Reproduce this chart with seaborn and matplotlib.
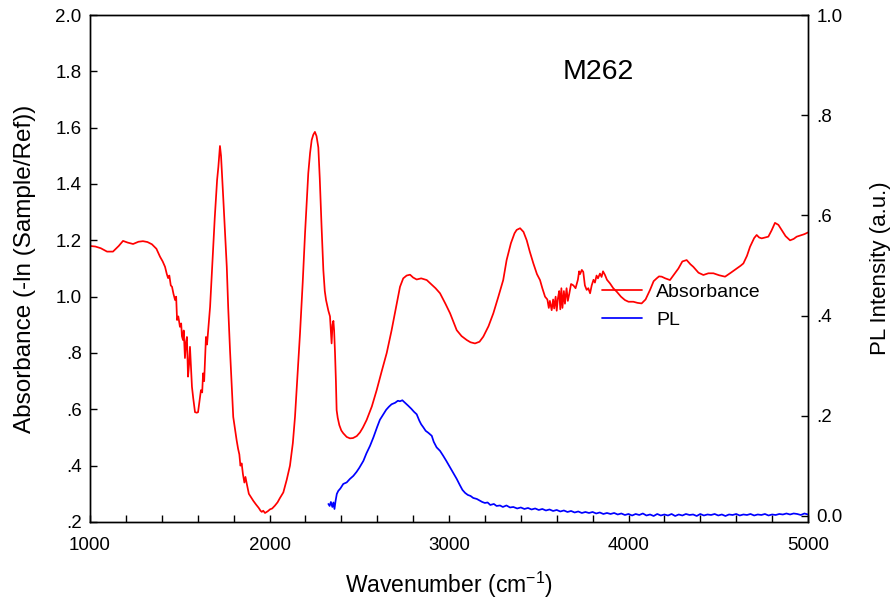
import matplotlib
matplotlib.use("Agg")
import matplotlib.pyplot as plt
from matplotlib.ticker import FixedLocator, FixedFormatter, MultipleLocator
import seaborn as sns

sns.set_style("ticks")
plt.rcParams["font.family"] = ["Liberation Sans", "DejaVu Sans"]
plt.rcParams.update({
    "text.color": "black",
    "axes.labelcolor": "black",
    "xtick.color": "black",
    "ytick.color": "black",
    "axes.edgecolor": "black",
    "mathtext.default": "regular",
})

# ---- Absorbance spectrum (left axis) ----
abs_wn = [
    1000, 1030, 1060, 1095, 1128, 1160, 1184, 1210, 1240, 1270, 1295, 1320, 1345, 1370,
    1390, 1405, 1418, 1428, 1435, 1442, 1450, 1457, 1465, 1474, 1480, 1485, 1492, 1501,
    1508, 1512, 1518, 1522, 1529, 1535, 1540, 1546, 1552, 1557, 1563, 1568, 1575, 1585,
    1595, 1602, 1610, 1618, 1625, 1630, 1636, 1646, 1652, 1657, 1664, 1669, 1677, 1685,
    1695, 1708, 1715, 1720, 1724, 1730, 1736, 1743, 1752, 1762, 1770, 1780, 1790, 1798,
    1808, 1817, 1825, 1832, 1838, 1845, 1852, 1860, 1866, 1873, 1885, 1895, 1910, 1925,
    1940, 1950, 1957, 1965, 1975, 1990, 2003, 2015, 2030, 2045, 2058, 2077, 2096, 2114,
    2130, 2142, 2155, 2170, 2185, 2198, 2207, 2216, 2226, 2235, 2244, 2253, 2262, 2272,
    2280, 2290, 2300, 2308, 2315, 2328, 2337, 2342, 2346, 2351, 2356, 2360, 2365, 2370,
    2374, 2380, 2389, 2400, 2411, 2430, 2448, 2465, 2486, 2504, 2520, 2541, 2570, 2597,
    2625, 2653, 2680, 2709, 2727, 2745, 2764, 2783, 2800, 2820, 2845, 2876, 2900, 2925,
    2950, 2980, 3006, 3025, 3043, 3070, 3099, 3120, 3145, 3170, 3191, 3220, 3247, 3275,
    3302, 3321, 3345, 3365, 3377, 3396, 3415, 3433, 3450, 3470, 3490, 3507, 3520, 3535,
    3548, 3556, 3562, 3572, 3580, 3586, 3594, 3600, 3607, 3614, 3620, 3626, 3632, 3640,
    3646, 3655, 3662, 3670, 3680, 3693, 3705, 3718, 3725, 3730, 3740, 3748, 3757, 3767,
    3776, 3786, 3795, 3805, 3813, 3822, 3830, 3841, 3850, 3858, 3869, 3880, 3897, 3915,
    3934, 3958, 3980, 4000, 4027, 4050, 4073, 4095, 4120, 4140, 4157, 4170, 4185, 4205,
    4231, 4255, 4278, 4300, 4324, 4345, 4361, 4390, 4417, 4445, 4473, 4505, 4538, 4570,
    4603, 4625, 4640, 4660, 4677, 4700, 4714, 4728, 4742, 4760, 4779, 4797, 4816, 4835,
    4853, 4875, 4900, 4920, 4937, 4960, 4980, 5000,
]
abs_val = [
    1.180, 1.178, 1.172, 1.160, 1.160, 1.180, 1.198, 1.192, 1.187, 1.195, 1.197, 1.194, 1.186, 1.170,
    1.142, 1.125, 1.106, 1.080, 1.066, 1.075, 1.040, 1.035, 1.010, 0.988, 1.000, 0.917, 0.930, 0.893,
    0.905, 0.860, 0.846, 0.880, 0.782, 0.840, 0.857, 0.716, 0.760, 0.822, 0.740, 0.680, 0.640, 0.590,
    0.588, 0.590, 0.630, 0.668, 0.660, 0.728, 0.700, 0.857, 0.830, 0.870, 0.930, 0.964, 1.060, 1.155,
    1.280, 1.414, 1.460, 1.500, 1.535, 1.500, 1.430, 1.343, 1.230, 1.106, 0.960, 0.810, 0.680, 0.573,
    0.530, 0.490, 0.460, 0.440, 0.400, 0.408, 0.370, 0.340, 0.360, 0.337, 0.300, 0.290, 0.275, 0.262,
    0.250, 0.240, 0.236, 0.240, 0.232, 0.238, 0.245, 0.248, 0.258, 0.270, 0.285, 0.305, 0.350, 0.400,
    0.480, 0.573, 0.710, 0.870, 1.050, 1.225, 1.330, 1.438, 1.510, 1.556, 1.575, 1.585, 1.570, 1.530,
    1.420, 1.250, 1.094, 1.020, 0.988, 0.950, 0.930, 0.880, 0.834, 0.900, 0.914, 0.880, 0.800, 0.700,
    0.597, 0.570, 0.544, 0.525, 0.515, 0.502, 0.497, 0.498, 0.505, 0.518, 0.535, 0.562, 0.610, 0.668,
    0.735, 0.800, 0.880, 0.976, 1.035, 1.065, 1.075, 1.078, 1.068, 1.061, 1.065, 1.059, 1.045, 1.030,
    1.012, 0.975, 0.941, 0.910, 0.881, 0.860, 0.846, 0.838, 0.834, 0.840, 0.858, 0.895, 0.941, 1.000,
    1.059, 1.130, 1.190, 1.225, 1.237, 1.243, 1.230, 1.200, 1.160, 1.118, 1.080, 1.059, 1.030, 1.000,
    0.990, 0.960, 0.985, 0.952, 0.990, 0.958, 1.000, 0.950, 0.995, 1.020, 0.955, 1.030, 0.960, 1.020,
    0.975, 1.030, 0.985, 1.010, 1.045, 1.040, 1.030, 1.060, 1.090, 1.080, 1.095, 1.088, 1.040, 1.024,
    1.030, 1.012, 1.040, 1.060, 1.050, 1.075, 1.065, 1.082, 1.070, 1.090, 1.077, 1.060, 1.047, 1.030,
    1.018, 1.000, 0.988, 0.982, 0.982, 0.978, 0.976, 0.990, 1.024, 1.055, 1.065, 1.072, 1.071, 1.065,
    1.059, 1.080, 1.100, 1.125, 1.130, 1.115, 1.106, 1.085, 1.077, 1.083, 1.083, 1.076, 1.071, 1.085,
    1.100, 1.110, 1.118, 1.145, 1.177, 1.208, 1.219, 1.210, 1.207, 1.210, 1.213, 1.235, 1.262, 1.255,
    1.237, 1.215, 1.200, 1.205, 1.213, 1.218, 1.222, 1.228,
]

# ---- Photoluminescence spectrum (right axis) ----
pl_wn = [
    2328, 2335, 2342, 2350, 2356, 2362, 2368, 2375, 2383, 2395, 2411, 2430, 2448, 2467,
    2485, 2500, 2523, 2540, 2560, 2579, 2600, 2615, 2634, 2650, 2665, 2680, 2700, 2715,
    2727, 2740, 2755, 2773, 2790, 2805, 2820, 2835, 2845, 2857, 2870, 2885, 2904, 2915,
    2931, 2950, 2968, 2985, 3006, 3025, 3043, 3060, 3075, 3090, 3105, 3120, 3135, 3155,
    3170, 3185, 3200, 3215, 3230, 3250, 3265, 3284, 3300, 3320, 3340, 3358, 3380, 3400,
    3420, 3440, 3460, 3480, 3500, 3520, 3540, 3560, 3580, 3600, 3620, 3640, 3660, 3680,
    3700, 3720, 3740, 3760, 3780, 3800, 3820, 3840, 3860, 3880, 3900, 3920, 3940, 3960,
    3980, 4000, 4020, 4040, 4060, 4080, 4100, 4120, 4140, 4160, 4180, 4200, 4220, 4240,
    4260, 4280, 4300, 4320, 4340, 4360, 4380, 4400, 4420, 4440, 4460, 4480, 4500, 4520,
    4540, 4560, 4580, 4600, 4620, 4640, 4660, 4680, 4700, 4720, 4740, 4760, 4780, 4800,
    4820, 4840, 4860, 4880, 4900, 4920, 4940, 4960, 4980, 5000,
]
pl_val = [
    0.024, 0.020, 0.028, 0.018, 0.027, 0.014, 0.030, 0.044, 0.050, 0.055, 0.064, 0.067, 0.074, 0.080,
    0.088, 0.096, 0.110, 0.125, 0.140, 0.157, 0.178, 0.192, 0.203, 0.212, 0.218, 0.223, 0.226, 0.230,
    0.229, 0.231, 0.226, 0.220, 0.214, 0.208, 0.203, 0.190, 0.183, 0.177, 0.170, 0.166, 0.160, 0.148,
    0.137, 0.130, 0.120, 0.110, 0.097, 0.085, 0.074, 0.062, 0.052, 0.046, 0.042, 0.040, 0.036, 0.034,
    0.031, 0.028, 0.026, 0.027, 0.022, 0.024, 0.020, 0.021, 0.018, 0.021, 0.017, 0.018, 0.015, 0.017,
    0.014, 0.016, 0.013, 0.015, 0.012, 0.014, 0.011, 0.013, 0.010, 0.012, 0.009, 0.011, 0.008, 0.010,
    0.007, 0.009, 0.006, 0.008, 0.006, 0.008, 0.005, 0.007, 0.004, 0.006, 0.004, 0.006, 0.003, 0.005,
    0.002, 0.004, 0.001, 0.004, 0.002, 0.005, 0.001, 0.003, 0.000, 0.004, 0.001, 0.003, 0.001, 0.004,
    0.000, 0.003, 0.001, 0.004, 0.002, 0.003, 0.000, 0.004, 0.001, 0.003, 0.002, 0.004, 0.001, 0.003,
    0.000, 0.003, 0.002, 0.004, 0.001, 0.003, 0.002, 0.004, 0.001, 0.003, 0.002, 0.004, 0.001, 0.003,
    0.002, 0.004, 0.003, 0.005, 0.003, 0.005, 0.004, 0.002, 0.005, 0.003,
]

left_ticks = [0.2, 0.4, 0.6, 0.8, 1.0, 1.2, 1.4, 1.6, 1.8, 2.0]
left_labels = [".2", ".4", ".6", ".8", "1.0", "1.2", "1.4", "1.6", "1.8", "2.0"]
right_ticks = [0.0, 0.2, 0.4, 0.6, 0.8, 1.0]
right_labels = ["0.0", ".2", ".4", ".6", ".8", "1.0"]
x_ticks = [1000, 2000, 3000, 4000, 5000]

fig = plt.figure(figsize=(8.93, 6.04), dpi=100)
ax = fig.add_axes([90 / 893, 1 - 522 / 604, 718 / 893, 507 / 604])
ax2 = ax.twinx()

sns.lineplot(x=abs_wn, y=abs_val, ax=ax, color="#ff0000", lw=1.25, estimator=None,
             label="Absorbance", legend=False)
sns.lineplot(x=pl_wn, y=pl_val, ax=ax2, color="#0000ff", lw=1.25, estimator=None,
             label="PL", legend=False)

ax.set_xlim(1000, 5000)
ax.set_ylim(0.2, 2.0)
ax2.set_ylim(-0.012, 1.0)

ax.xaxis.set_major_locator(FixedLocator(x_ticks))
ax.xaxis.set_minor_locator(MultipleLocator(200))
ax.yaxis.set_major_locator(FixedLocator(left_ticks))
ax.yaxis.set_major_formatter(FixedFormatter(left_labels))
ax2.yaxis.set_major_locator(FixedLocator(right_ticks))
ax2.yaxis.set_major_formatter(FixedFormatter(right_labels))

for a in (ax, ax2):
    for sp in a.spines.values():
        sp.set_color("black")
        sp.set_linewidth(1.0)
ax.tick_params(axis="x", which="both", direction="in", length=5, width=1,
               labelsize=13.5, pad=11, top=False)
ax.tick_params(axis="y", direction="in", length=5, width=1, labelsize=13.5, pad=6)
ax2.tick_params(axis="y", direction="in", length=5, width=1, labelsize=13.5, pad=6)

ax.set_xlabel("Wavenumber (cm$^{-1}$)", fontsize=16.5, labelpad=11)
ax.set_ylabel("Absorbance (-ln (Sample/Ref))", fontsize=17.5, labelpad=14)
ax2.set_ylabel("PL Intensity (a.u.)", fontsize=16, labelpad=20)

ax.text(0.708, 0.888, "M262", transform=ax.transAxes, fontsize=20.5,
        ha="center", va="center")

handles = ax.get_lines()[:1] + ax2.get_lines()[:1]
ax.legend(handles, ["Absorbance", "PL"], loc="upper left",
          bbox_to_anchor=(0.702, 0.486), frameon=False, fontsize=14,
          handlelength=2.05, handletextpad=0.75, labelspacing=0.55,
          borderaxespad=0.0)

fig.savefig("out.png", dpi=100)
